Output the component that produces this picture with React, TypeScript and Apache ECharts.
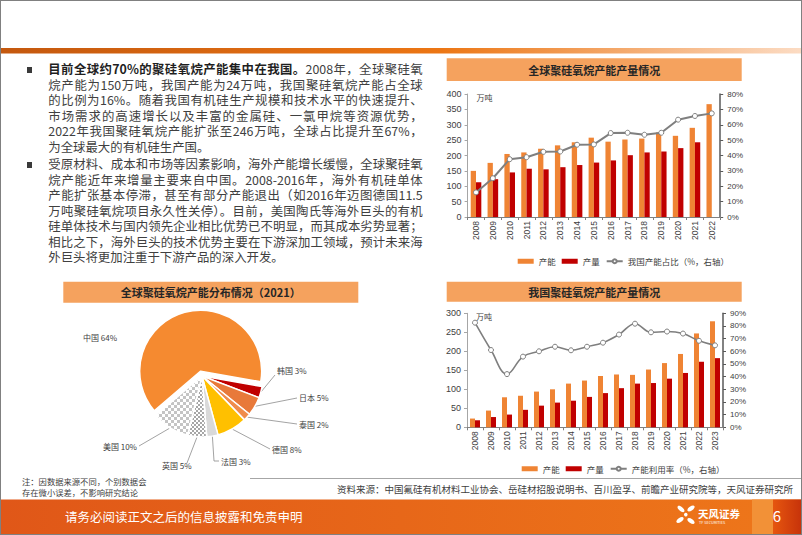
import React, { useEffect, useRef } from 'react';
import * as echarts from 'echarts';

const CJK = '"Noto Sans CJK SC", "Noto Sans", sans-serif';
const NUM = '"Liberation Sans", Arial, "Noto Sans CJK SC", sans-serif';

// ---------- data ----------
const years1 = ['2008', '2009', '2010', '2011', '2012', '2013', '2014', '2015', '2016', '2017', '2018', '2019', '2020', '2021', '2022'];
const globalCapacity = [150, 176, 205, 210, 222, 233, 243, 258, 245, 252, 255, 275, 264, 290, 367];
const globalOutput = [113, 123, 145, 157, 155, 162, 169, 177, 184, 201, 210, 213, 224, 243, null];
const chinaShare = [16, 25.2, 37.6, 38.9, 42.4, 42.6, 47, 47.2, 54.6, 54.8, 53.5, 54.8, 63.3, 65.7, 67.4];

const years2 = ['2008', '2009', '2010', '2011', '2012', '2013', '2014', '2015', '2016', '2017', '2018', '2019', '2020', '2021', '2022', '2023'];
const chinaCapacity = [23, 44, 79, 83, 94, 100, 115, 123, 135, 139, 138, 152, 169, 193, 247, 279];
const chinaOutput = [18.5, 27, 33.5, 46, 57, 65, 70, 80, 90, 103, 115, 116.5, 128, 143, 172.5, 182];
const utilization = [82.6, 61, 42, 55.8, 60, 63.6, 60.8, 63.6, 66.8, 73.2, 81.8, 75, 75.6, 74, 68.3, 64.7];

const pieNames = ['韩国', '日本', '泰国', '德国', '法国', '英国', '美国', '中国'];
const pieValues = [3, 5, 2, 8, 3, 5, 10, 64];

const capName = '产能';
const outName = '产量';
const shareName = '我国产能占比（%，右轴）';
const utilName = '产能利用率（%，右轴）';

const title1 = '全球聚硅氧烷产能产量情况';
const title2 = '我国聚硅氧烷产能产量情况';
const title3 = '全球聚硅氧烷产能分布情况（2021）';

const para1Bold = '目前全球约70%的聚硅氧烷产能集中在我国。';
const para1Lines = [
  '2008年，全球聚硅氧',
  '烷产能为150万吨，我国产能为24万吨，我国聚硅氧烷产能占全球',
  '的比例为16%。随着我国有机硅生产规模和技术水平的快速提升、',
  '市场需求的高速增长以及丰富的金属硅、一氯甲烷等资源优势，',
  '2022年我国聚硅氧烷产能扩张至246万吨，全球占比提升至67%，',
  '为全球最大的有机硅生产国。',
];
const para2Lines = [
  '受原材料、成本和市场等因素影响，海外产能增长缓慢，全球聚硅氧',
  '烷产能近年来增量主要来自中国。2008-2016年，海外有机硅单体',
  '产能扩张基本停滞，甚至有部分产能退出（如2016年迈图德国11.5',
  '万吨聚硅氧烷项目永久性关停）。目前，美国陶氏等海外巨头的有机',
  '硅单体技术与国内领先企业相比优势已不明显，而其成本劣势显著；',
  '相比之下，海外巨头的技术优势主要在下游深加工领域，预计未来海',
  '外巨头将更加注重于下游产品的深入开发。',
];
const noteLines = ['注：因数据来源不同，个别数据会', '存在微小误差，不影响研究结论'];
const sourceText = '资料来源：中国氟硅有机材料工业协会、岳硅材招股说明书、百川盈孚、前瞻产业研究院等，天风证券研究所';
const footerText = '请务必阅读正文之后的信息披露和免责申明';
const pageNo = '6';

// ---------- styles ----------
const ORANGE = '#EF8434';
const RED = '#C00000';
const GRAY = '#7F7F7F';
const BANNER = '#F5A25E';
const CLEAR = 'rgba(0,0,0,0)';

const pieItemStyles: any[] = [
  { color: '#C00000' },
  { color: '#E8793A' },
  { color: '#F08C4C' },
  { color: '#FFC000' },
  { color: '#D9D9D9' },
  { color: '#FFFFFF', decal: { symbol: 'rect', symbolSize: 1, color: '#A6A6A6', dashArrayX: [[1.5, 1.5], [0, 1.5, 1.5, 0]], dashArrayY: [1.5, 0] } },
  { color: '#FFFFFF', decal: { symbol: 'rect', symbolSize: 1, color: '#C4C4C4', dashArrayX: [[2.5, 2.5], [0, 2.5, 2.5, 0]], dashArrayY: [2.5, 0] } },
  { color: '#F58A30' },
];
const explodedName = '中国';

const pieLabelPos: Record<string, [number, number, string]> = {
  中国: [83, 337, 'left'],
  韩国: [277, 370, 'left'],
  日本: [299, 397, 'left'],
  泰国: [299, 424, 'left'],
  德国: [272, 449, 'left'],
  法国: [221, 461, 'left'],
  英国: [162, 465, 'left'],
  美国: [137, 446, 'right'],
};
const pieLineTail: Record<string, number[][]> = {
  韩国: [[275, 375], [275, 375]],
  日本: [[297, 398], [297, 398]],
  泰国: [[297, 424], [297, 424]],
  德国: [[270, 449], [270, 449]],
  法国: [[214, 461], [219, 461]],
  英国: [[187, 463], [187, 463]],
  美国: [[139, 446], [139, 446]],
};

function axisX(gridIndex: number, data: string[]) {
  return {
    type: 'category',
    gridIndex,
    data,
    axisLine: { lineStyle: { color: '#808080', width: 1 } },
    axisTick: { show: true, length: 3, lineStyle: { color: '#808080' } },
    axisLabel: { rotate: 90, interval: 0, fontSize: 8.5, color: '#404040', margin: 4, fontFamily: NUM },
  };
}

function axisLeft(gridIndex: number, max: number) {
  return {
    type: 'value',
    gridIndex,
    min: 0,
    max,
    interval: 50,
    name: '万吨',
    nameLocation: 'end',
    nameGap: -3,
    nameTextStyle: { align: 'left', verticalAlign: 'middle', padding: [0, 0, 0, 9], fontSize: 8, color: '#404040', fontFamily: CJK },
    axisLine: { show: true, lineStyle: { color: '#A6A6A6', width: 1 } },
    axisTick: { show: true, length: 3, lineStyle: { color: '#A6A6A6' } },
    splitLine: { show: false },
    axisLabel: { fontSize: 9, color: '#404040', margin: 6, fontFamily: NUM },
  };
}

function axisRight(gridIndex: number, max: number) {
  return {
    type: 'value',
    gridIndex,
    position: 'right',
    min: 0,
    max,
    interval: 10,
    axisLine: { show: true, lineStyle: { color: '#595959', width: 1.5 } },
    axisTick: { show: true, length: 3, lineStyle: { color: '#595959' } },
    splitLine: { show: false },
    axisLabel: { formatter: '{value}%', fontSize: 8, color: '#404040', margin: 7, fontFamily: NUM },
  };
}

function legendDef(left: number, top: number, lineName: string) {
  return {
    left,
    top,
    orient: 'horizontal',
    selectedMode: false,
    itemWidth: 16,
    itemHeight: 5,
    itemGap: 6,
    textStyle: { fontSize: 8.5, color: '#404040', fontFamily: CJK },
    data: [
      { name: capName, icon: 'rect' },
      { name: outName, icon: 'rect' },
      { name: lineName },
    ],
  };
}

function bannerEls(x: number, y: number, w: number, h: number, text: string) {
  return [
    { type: 'rect', shape: { x, y, width: w, height: h }, style: { fill: BANNER } },
    {
      type: 'text',
      style: {
        text, x: x + w / 2, y: y + h / 2, fill: '#262626', fontSize: 11, fontWeight: 'bold', fontFamily: CJK,
        align: 'center', verticalAlign: 'middle', textAlign: 'center', textVerticalAlign: 'middle',
      },
    },
  ];
}

function txt(text: string, x: number, y: number, size: number, fill: string, align = 'left', weight = 'normal') {
  return {
    type: 'text',
    style: {
      text, x, y, fill, fontSize: size, fontFamily: CJK, fontWeight: weight,
      align, verticalAlign: 'middle', textAlign: align, textVerticalAlign: 'middle',
    },
  };
}

const PIE_CENTER = [202, 376];
const PIE_R = 61;
const PIE_START = -10;
const EXPLODE = 5;

function buildOption() {
  const petal = (x: number, y: number, rot: number) => ({
    type: 'ellipse', x, y, rotation: rot, shape: { cx: 0, cy: 0, rx: 4.2, ry: 2.1 }, style: { fill: '#FFFFFF' },
  });

  // offset of the exploded slice, along its mid angle
  const total = pieValues.reduce((a, b) => a + b, 0);
  const exIdx = pieNames.indexOf(explodedName);
  const before = pieValues.slice(0, exIdx).reduce((a, b) => a + b, 0);
  const midDeg = PIE_START - ((before + pieValues[exIdx] / 2) / total) * 360;
  const midRad = (midDeg * Math.PI) / 180;
  const exCenter = [PIE_CENTER[0] + EXPLODE * Math.cos(midRad), PIE_CENTER[1] - EXPLODE * Math.sin(midRad)];

  const graphics: any[] = [
    {
      type: 'rect', shape: { x: 0, y: 48, width: 802, height: 5.5 },
      style: {
        fill: new echarts.graphic.LinearGradient(0, 0, 1, 0, [
          { offset: 0, color: '#C4580E' },
          { offset: 0.55, color: '#EC7614' },
          { offset: 1, color: '#FCDCC4' },
        ]),
      },
    },
    ...bannerEls(446.7, 58.3, 295, 22.7, title1),
    ...bannerEls(446.7, 281.7, 295, 20, title2),
    ...bannerEls(63.3, 281.7, 295, 21, title3),
    { type: 'line', shape: { x1: 250, y1: 478.5, x2: 802, y2: 478.5 }, style: { stroke: '#A6A6A6', lineWidth: 1 } },
    txt(noteLines[0], 22, 481, 8.3, '#404040'),
    txt(noteLines[1], 22, 492, 8.3, '#404040'),
    txt(sourceText, 793, 489, 9.5, '#404040', 'right'),
    {
      type: 'rect', shape: { x: 0, y: 499.5, width: 802, height: 36 },
      style: {
        fill: new echarts.graphic.LinearGradient(0, 0, 1, 0, [
          { offset: 0, color: '#E05718' },
          { offset: 1, color: '#EE771A' },
        ]),
      },
    },
    { type: 'rect', shape: { x: 752, y: 499.5, width: 21, height: 36 }, style: { fill: '#F29137' } },
    {
      type: 'rect', shape: { x: 773, y: 499.5, width: 29, height: 36 },
      style: {
        fill: new echarts.graphic.LinearGradient(0, 0, 1, 0, [
          { offset: 0, color: '#E6560F' },
          { offset: 1, color: '#C6320A' },
        ]),
      },
    },
    txt(footerText, 65, 516, 12.5, '#FFFFFF'),
    petal(681, 509, -0.7),
    petal(691, 508.5, 0.6),
    petal(680, 520, 0.6),
    petal(691, 521, -0.6),
    { type: 'circle', shape: { cx: 685.8, cy: 514.6, r: 1.8 }, style: { fill: '#FFFFFF' } },
    txt('天风证券', 698, 513, 10.5, '#FFFFFF', 'left', 'bold'),
    txt('TF SECURITIES', 699, 522.5, 3.8, '#FFFFFF'),
    txt(pageNo, 777, 515.5, 15, '#FFFFFF', 'center'),
  ];

  const pieCommon = {
    type: 'pie',
    radius: PIE_R,
    startAngle: PIE_START,
    clockwise: true,
    avoidLabelOverlap: false,
    emphasis: { disabled: true },
  };

  return {
    animation: false,
    backgroundColor: 'transparent',
    textStyle: { fontFamily: CJK },
    grid: [
      { left: 467.6, top: 94, width: 252.6, height: 123, containLabel: false },
      { left: 467, top: 313.3, width: 256, height: 114, containLabel: false },
    ],
    legend: [legendDef(512.7, 252, shareName), legendDef(516.7, 459.5, utilName)],
    xAxis: [axisX(0, years1), axisX(1, years2)],
    yAxis: [axisLeft(0, 400), axisRight(0, 80), axisLeft(1, 300), axisRight(1, 90)],
    series: [
      {
        type: 'bar', name: capName, xAxisIndex: 0, yAxisIndex: 0, data: globalCapacity,
        barWidth: 5.3, barGap: '0%', itemStyle: { color: ORANGE }, emphasis: { disabled: true },
      },
      {
        type: 'bar', name: outName, xAxisIndex: 0, yAxisIndex: 0, data: globalOutput,
        barWidth: 5.3, barGap: '0%', itemStyle: { color: RED }, emphasis: { disabled: true },
      },
      {
        type: 'line', name: shareName, xAxisIndex: 0, yAxisIndex: 1, data: chinaShare, z: 5,
        symbol: 'circle', symbolSize: 5, showAllSymbol: true,
        lineStyle: { color: GRAY, width: 2 },
        itemStyle: { color: '#FFFFFF', borderColor: GRAY, borderWidth: 1 },
        emphasis: { disabled: true },
      },
      {
        type: 'bar', name: capName, xAxisIndex: 1, yAxisIndex: 2, data: chinaCapacity,
        barWidth: 5, barGap: '0%', itemStyle: { color: ORANGE }, emphasis: { disabled: true },
      },
      {
        type: 'bar', name: outName, xAxisIndex: 1, yAxisIndex: 2, data: chinaOutput,
        barWidth: 5, barGap: '0%', itemStyle: { color: RED }, emphasis: { disabled: true },
      },
      {
        type: 'line', name: utilName, xAxisIndex: 1, yAxisIndex: 3, data: utilization, z: 5,
        smooth: 0.4, symbol: 'circle', symbolSize: 5, showAllSymbol: true,
        lineStyle: { color: GRAY, width: 1.6 },
        itemStyle: { color: '#FFFFFF', borderColor: GRAY, borderWidth: 1 },
        emphasis: { disabled: true },
      },
      // main pie: every slice except the exploded one, plus all the labels
      {
        ...pieCommon,
        name: 'pieMain',
        center: PIE_CENTER,
        itemStyle: { borderColor: '#FFFFFF', borderWidth: 1.5 },
        label: { show: true, position: 'outside', formatter: '{b} {c}%', fontSize: 8, color: '#404040', fontFamily: CJK },
        labelLine: { show: true, length: 8, length2: 8, lineStyle: { color: '#8C8C8C', width: 0.8 } },
        labelLayout: (p: any) => {
          const name = pieNames[p.dataIndex];
          const pos = pieLabelPos[name];
          const res: any = { x: pos[0], y: pos[1], align: pos[2], verticalAlign: 'middle' };
          const tail = pieLineTail[name];
          if (tail && p.labelLinePoints && p.labelLinePoints[0]) {
            res.labelLinePoints = [p.labelLinePoints[0], tail[0], tail[1]];
          }
          return res;
        },
        data: pieNames.map((n, i) => ({
          name: n,
          value: pieValues[i],
          itemStyle: n === explodedName ? { color: CLEAR, borderWidth: 0 } : pieItemStyles[i],
          labelLine: n === explodedName ? { show: false } : undefined,
        })),
      },
      // exploded slice, drawn with its centre pushed out along its mid angle
      {
        ...pieCommon,
        name: 'pieExploded',
        silent: true,
        center: exCenter,
        label: { show: false },
        labelLine: { show: false },
        itemStyle: { borderColor: '#FFFFFF', borderWidth: 1.5 },
        data: pieNames.map((n, i) => ({
          name: n,
          value: pieValues[i],
          itemStyle: n === explodedName ? pieItemStyles[i] : { color: CLEAR, borderWidth: 0 },
        })),
      },
    ],
    graphic: { elements: graphics },
  };
}

const LH = 15.5;
const lineStyleBase: React.CSSProperties = {
  position: 'absolute',
  left: 48.3,
  width: 374.4,
  height: LH,
  lineHeight: LH + 'px',
  fontSize: 12.4,
  color: '#404040',
  fontFamily: CJK,
  textAlign: 'justify',
};

function Bullet({ y }: { y: number }) {
  return <div style={{ position: 'absolute', left: 26.8, top: y - 2.6, width: 5.2, height: 5.2, background: '#3A3A3A' }} />;
}

export default function App() {
  const ref = useRef<HTMLDivElement>(null);
  useEffect(() => {
    if (!ref.current) return;
    const chart = echarts.init(ref.current, null, { renderer: 'svg' });
    chart.setOption(buildOption() as any);
    return () => chart.dispose();
  }, []);

  const p1Top = 70 - LH / 2;
  const p2Top = 165 - LH / 2;

  return (
    <div style={{ position: 'absolute', left: 0, top: 0, width: 802, height: 535, overflow: 'hidden', background: '#FFFFFF' }}>
      <div ref={ref} style={{ position: 'absolute', left: 0, top: 0, width: 802, height: 535 }} />
      <Bullet y={70} />
      {para1Lines.map((line, i) => (
        <div
          key={'p1' + i}
          style={{ ...lineStyleBase, top: p1Top + i * LH, textAlignLast: i < para1Lines.length - 1 ? 'justify' : 'left' } as any}
        >
          {i === 0 ? <span style={{ fontWeight: 700, color: '#1F1F1F' }}>{para1Bold}</span> : null}
          {line}
        </div>
      ))}
      <Bullet y={165} />
      {para2Lines.map((line, i) => (
        <div
          key={'p2' + i}
          style={{ ...lineStyleBase, top: p2Top + i * LH, textAlignLast: i < para2Lines.length - 1 ? 'justify' : 'left' } as any}
        >
          {line}
        </div>
      ))}
      <div style={{ position: 'absolute', left: 0, top: 0, width: 802, height: 535, boxSizing: 'border-box', border: '1.5px solid #808080', pointerEvents: 'none' }} />
    </div>
  );
}
